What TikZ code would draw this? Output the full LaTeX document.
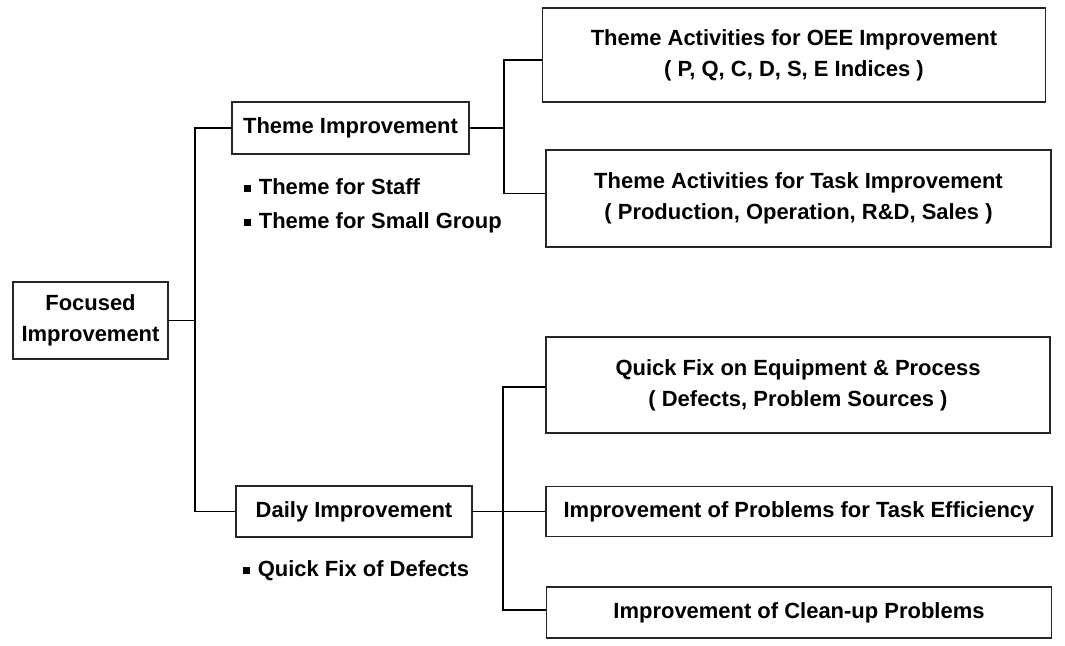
\documentclass[tikz,border=0pt]{standalone}
\usepackage{fontspec}
\setmainfont{Liberation Sans}
\usepackage{tikz}
\usetikzlibrary{calc}
\newcommand{\sqbul}{\rule[0.25ex]{0.33em}{0.33em}\hspace{0.35em}}

\begin{document}
\begin{tikzpicture}[line cap=rect, line width=1.05pt,
	box/.style={draw=black!85, line width=1.1pt, inner sep=0pt, align=center,
		font=\fontsize{12.5}{17.5}\selectfont\bfseries},
	note/.style={anchor=west, inner sep=0pt, font=\fontsize{12.5}{15}\selectfont\bfseries}
	]

	\useasboundingbox (0,0) rectangle (21.3,12.9);

	\node[box, minimum width=3.1cm, minimum height=1.54cm] (FI) at (1.81, 6.49) {Focused\\Improvement};

	\node[box, minimum width=4.74cm, minimum height=1.04cm] (TI) at (7.01, 10.34) {Theme Improvement};
	\node[box, minimum width=4.72cm, minimum height=1.02cm] (DI) at (7.08, 2.67) {Daily Improvement};

	\node[note] (ts) at (4.86, 9.16) {\sqbul Theme for Staff};
	\node[note] (tg) at (4.86, 8.44) {\sqbul Theme for Small Group};
	\node[note] (qd) at (4.84, 1.48) {\sqbul Quick Fix of Defects};

	\node[box, minimum width=10.06cm, minimum height=1.88cm] (OEE) at (15.88, 11.8) {Theme Activities for OEE Improvement\\( P, Q, C, D, S, E Indices )};
	\node[box, minimum width=10.1cm, minimum height=1.94cm] (TASK) at (15.97, 8.93) {Theme Activities for Task Improvement\\( Production, Operation, R\&D, Sales )};

	\node[box, minimum width=10.08cm, minimum height=1.92cm] (QF) at (15.96, 5.2) {Quick Fix on Equipment \& Process\\( Defects, Problem Sources )};
	\node[box, minimum width=10.12cm, minimum height=1.0cm] (EFF) at (15.98, 2.67) {Improvement of Problems for Task Efficiency};
	\node[box, minimum width=10.1cm, minimum height=1.02cm] (CLN) at (15.98, 0.65) {Improvement of Clean-up Problems};

	\coordinate (fb) at (3.9, 6.49);
	\coordinate (tb) at (10.08, 10.34);
	\coordinate (db) at (10.06, 2.67);

	% trunk
	\draw (FI.east) -- (fb);
	\draw (TI.west) -| (fb) |- (DI.west);

	% branches
	\draw (TI.east) -- (tb);
	\draw ($(OEE.west)+(0,-0.1)$) -| (tb) |- ($(TASK.west)+(0,0.1)$);
	\draw (DI.east) -- (EFF.west);
	\draw ($(QF.west)+(0,-0.04)$) -| (db) |- ($(CLN.west)+(0,0.05)$);

\end{tikzpicture}
\end{document}
